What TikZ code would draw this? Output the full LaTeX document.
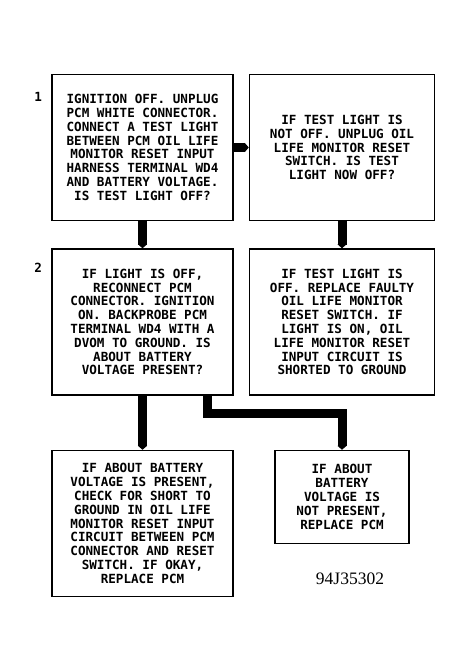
\documentclass[tikz,border=0pt]{standalone}
\usepackage{fontspec}
\usetikzlibrary{arrows.meta, positioning}
\newfontfamily\boxfont{DejaVu Sans Mono}
\newfontfamily\codefont{Liberation Serif}

\begin{document}
\begin{tikzpicture}[x=1pt, y=-1pt, node distance=16pt,
  chk/.style={rectangle, draw=black, line width=1.5pt, minimum width=181pt, minimum height=146pt, inner sep=0pt, align=center, font=\boxfont\bfseries\fontsize{12.6}{13.8}\selectfont},
  num/.style={font=\boxfont\bfseries\fontsize{12.6}{13.8}\selectfont, inner sep=0pt},
  arr/.style={-{Triangle[length=4pt, width=9pt]}, line width=9pt, line join=miter}
]
\useasboundingbox (0,0) rectangle (467,669);
\node[chk] (q1) at (142.5,147.5) {IGNITION OFF. UNPLUG\\PCM WHITE CONNECTOR.\\CONNECT A TEST LIGHT\\BETWEEN PCM OIL LIFE\\MONITOR RESET INPUT\\HARNESS TERMINAL WD4\\AND BATTERY VOLTAGE.\\IS TEST LIGHT OFF?};
\node[chk, minimum width=185pt, right=15pt of q1] (q2) {IF TEST LIGHT IS\\NOT OFF. UNPLUG OIL\\LIFE MONITOR RESET\\SWITCH. IS TEST\\LIGHT NOW OFF?};
\node[chk, below=27pt of q1] (q3) {IF LIGHT IS OFF,\\RECONNECT PCM\\CONNECTOR. IGNITION\\ON. BACKPROBE PCM\\TERMINAL WD4 WITH A\\DVOM TO GROUND. IS\\ABOUT BATTERY\\VOLTAGE PRESENT?};
\node[chk, minimum width=185pt, below=27pt of q2] (q4) {IF TEST LIGHT IS\\OFF. REPLACE FAULTY\\OIL LIFE MONITOR\\RESET SWITCH. IF\\LIGHT IS ON, OIL\\LIFE MONITOR RESET\\INPUT CIRCUIT IS\\SHORTED TO GROUND};
\node[chk, below=54pt of q3] (q5) {IF ABOUT BATTERY\\VOLTAGE IS PRESENT,\\CHECK FOR SHORT TO\\GROUND IN OIL LIFE\\MONITOR RESET INPUT\\CIRCUIT BETWEEN PCM\\CONNECTOR AND RESET\\SWITCH. IF OKAY,\\REPLACE PCM};
\node[chk, minimum width=134pt, minimum height=93pt, below=54pt of q4] (q6) {IF ABOUT\\BATTERY\\VOLTAGE IS\\NOT PRESENT,\\REPLACE PCM};
\draw[arr] (q1) -- (q2);
\draw[arr] (q1) -- (q3);
\draw[arr] (q2) -- (q4);
\draw[arr] (q3) -- (q5);
\draw[arr] ([xshift=64.5pt]q3.south) -- ++(0,-18pt) -| (q6.north);
% step numbers
\node[num, anchor=north east] (n1) at ([xshift=-9pt, yshift=-18pt]q1.north west) {1};
\node[num, anchor=north east] (n2) at ([xshift=-9pt, yshift=-15pt]q3.north west) {2};
% figure code
\node[font=\codefont\fontsize{17.5}{20}\selectfont, inner sep=0pt] (fig) at (350,579) {94J35302};
\end{tikzpicture}
\end{document}
